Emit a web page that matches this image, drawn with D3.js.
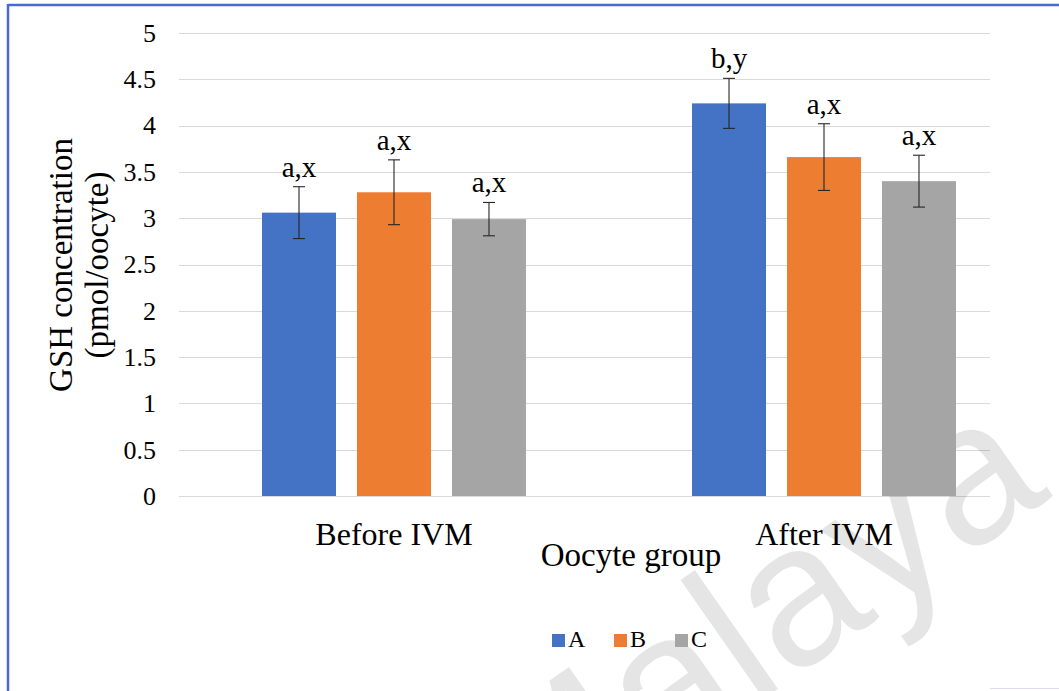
<!DOCTYPE html>
<html>
<head>
<meta charset="utf-8">
<script src="https://cdn.jsdelivr.net/npm/d3@7"></script>
<style>
  html, body { margin: 0; padding: 0; background: #fff; }
  svg { display: block; }
  text { font-family: "Liberation Serif", "Times New Roman", serif; fill: #000; }
</style>
</head>
<body>
<svg id="chart" width="1059" height="691"></svg>
<script>
// GSH concentration per oocyte, before and after in vitro maturation
const categories = ["Before IVM", "After IVM"];
const seriesNames = ["A", "B", "C"];
const seriesColors = ["#4472C4", "#ED7D31", "#A5A5A5"];

const valuesA = [3.06, 4.24];
const valuesB = [3.28, 3.66];
const valuesC = [2.99, 3.40];

const errorsA = [0.28, 0.27];
const errorsB = [0.35, 0.36];
const errorsC = [0.18, 0.28];

const lettersA = ["a,x", "b,y"];
const lettersB = ["a,x", "a,x"];
const lettersC = ["a,x", "a,x"];

const yTicks = [0, 0.5, 1, 1.5, 2, 2.5, 3, 3.5, 4, 4.5, 5];
const yTickLabels = ["0", "0.5", "1", "1.5", "2", "2.5", "3", "3.5", "4", "4.5", "5"];

const yTitleLines = ["GSH concentration", "(pmol/oocyte)"];
const xTitle = "Oocyte group";

const serif = "'Liberation Serif', 'Times New Roman', serif";

// build rows for the grouped bars
const seriesValues = [valuesA, valuesB, valuesC];
const seriesErrors = [errorsA, errorsB, errorsC];
const seriesLetters = [lettersA, lettersB, lettersC];
const rows = [];
categories.forEach((cat, ci) => {
  seriesNames.forEach((s, si) => {
    rows.push({ cat, series: s, color: seriesColors[si],
      value: seriesValues[si][ci], err: seriesErrors[si][ci], letter: seriesLetters[si][ci] });
  });
});

const svg = d3.select("#chart");

// frame
svg.append("line").attr("x1", 8).attr("x2", 1059).attr("y1", 5).attr("y2", 5)
  .attr("stroke", "#4a6ad0").attr("stroke-width", 2.5);
svg.append("line").attr("x1", 8).attr("x2", 8).attr("y1", 4).attr("y2", 691)
  .attr("stroke", "#4a6ad0").attr("stroke-width", 2.5);
svg.append("line").attr("x1", 990).attr("x2", 1059).attr("y1", 688.5).attr("y2", 688.5)
  .attr("stroke", "#dcdcec").attr("stroke-width", 1);

const y = d3.scaleLinear().domain([0, 5]).range([496, 33]);
const x0 = d3.scaleBand().domain(categories).range([179, 1039]).paddingInner(0).paddingOuter(0);
const x1 = d3.scaleBand().domain(seriesNames).range([0, x0.bandwidth()])
  .paddingInner(0.221).paddingOuter(0.874);

const gridRight = 990;

// gridlines
svg.append("g").selectAll("line").data(yTicks).join("line")
  .attr("x1", x0.range()[0]).attr("x2", gridRight)
  .attr("y1", d => Math.round(y(d)) + 0.5).attr("y2", d => Math.round(y(d)) + 0.5)
  .attr("stroke", "#d9d9d9").attr("stroke-width", 1.2);

// y axis tick labels
const yAxis = d3.axisLeft(y).tickValues(yTicks)
  .tickFormat((d, i) => yTickLabels[i]).tickSize(0).tickPadding(0);
const yAxisG = svg.append("g").attr("transform", "translate(156,0)").call(yAxis);
yAxisG.select(".domain").remove();
yAxisG.attr("font-family", null).attr("font-size", null);
yAxisG.selectAll("text")
  .style("font-family", serif)
  .style("font-size", "26px").style("fill", "#000");

// watermark, behind the bars
svg.append("text")
  .attr("transform", "translate(1053,496) rotate(-35)")
  .attr("text-anchor", "end")
  .style("font-family", "'Liberation Sans', Arial, sans-serif")
  .style("font-size", "200px")
  .style("fill", "#000").style("fill-opacity", 0.1)
  .text("Malaya");

// bars
const groups = svg.append("g").selectAll("g").data(categories).join("g")
  .attr("transform", d => `translate(${x0(d)},0)`);

groups.selectAll("rect").data(c => rows.filter(r => r.cat === c)).join("rect")
  .attr("x", d => x1(d.series)).attr("width", x1.bandwidth())
  .attr("y", d => y(d.value)).attr("height", d => y(0) - y(d.value))
  .attr("fill", d => d.color);

// error bars
const capHalf = 6;
const eb = groups.selectAll("g.err").data(c => rows.filter(r => r.cat === c)).join("g")
  .attr("class", "err")
  .attr("transform", d => `translate(${x1(d.series) + x1.bandwidth() / 2},0)`);
eb.append("line").attr("x1", 0).attr("x2", 0)
  .attr("y1", d => y(d.value - d.err)).attr("y2", d => y(d.value + d.err))
  .attr("stroke", "#262626").attr("stroke-width", 1.1);
eb.append("line").attr("x1", -capHalf).attr("x2", capHalf)
  .attr("y1", d => y(d.value + d.err)).attr("y2", d => y(d.value + d.err))
  .attr("stroke", "#262626").attr("stroke-width", 1.1);
eb.append("line").attr("x1", -capHalf).attr("x2", capHalf)
  .attr("y1", d => y(d.value - d.err)).attr("y2", d => y(d.value - d.err))
  .attr("stroke", "#262626").attr("stroke-width", 1.1);

// significance letters
eb.append("text").attr("text-anchor", "middle")
  .attr("y", d => y(d.value + d.err) - 10)
  .style("font-size", "29px")
  .text(d => d.letter);

// category labels
svg.append("g").selectAll("text").data(categories).join("text")
  .attr("x", d => x0(d) + x0.bandwidth() / 2).attr("y", 545)
  .attr("text-anchor", "middle").style("font-size", "32px")
  .text(d => d);

// axis titles
svg.append("text").attr("x", 631).attr("y", 566).attr("text-anchor", "middle")
  .style("font-size", "33px").text(xTitle);

const yTitle = svg.append("text").attr("transform", "translate(0,265) rotate(-90)")
  .attr("text-anchor", "middle").style("font-size", "33px");
yTitleLines.forEach((t, i) => {
  yTitle.append("tspan").attr("x", 0).attr("y", i === 0 ? 72 : 108).text(t);
});

// legend
const legendX = [552, 614, 675];
const legend = svg.append("g").selectAll("g").data(seriesNames).join("g")
  .attr("transform", (d, i) => `translate(${legendX[i]},634)`);
legend.append("rect").attr("width", 13).attr("height", 13)
  .attr("fill", (d, i) => seriesColors[i]);
legend.append("text").attr("x", 16).attr("y", 13).style("font-size", "24px").text(d => d);
</script>
</body>
</html>
